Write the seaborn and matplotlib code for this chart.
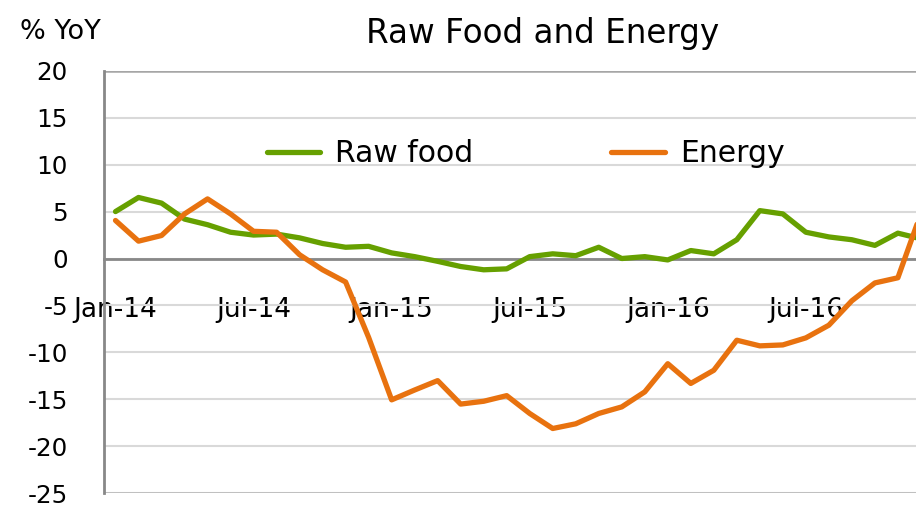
import numpy as np
import pandas as pd
import matplotlib
matplotlib.use("Agg")
import matplotlib.pyplot as plt
import seaborn as sns

sns.set_style("white")
plt.rcParams['font.family'] = ['DejaVu Sans']
plt.rcParams['text.color'] = 'black'
plt.rcParams['xtick.color'] = 'black'
plt.rcParams['ytick.color'] = 'black'

# monthly % YoY, Jan-14 .. Dec-16
months = pd.date_range("2014-01-01", periods=36, freq="MS")
raw_food = [5.0, 6.5, 5.9, 4.2, 3.6, 2.8, 2.5, 2.6, 2.2, 1.6, 1.2, 1.3,
            0.6, 0.2, -0.3, -0.85, -1.2, -1.1, 0.2, 0.5, 0.3, 1.2, 0.0, 0.2,
            -0.15, 0.85, 0.5, 2.0, 5.1, 4.75, 2.8, 2.3, 2.0, 1.4, 2.7, 2.1]
energy = [4.05, 1.85, 2.45, 4.75, 6.35, 4.75, 2.9, 2.8, 0.4, -1.2, -2.5, -8.4,
          -15.05, -14.0, -13.0, -15.5, -15.2, -14.6, -16.5, -18.1, -17.6, -16.5, -15.8, -14.2,
          -11.2, -13.3, -11.9, -8.7, -9.3, -9.2, -8.45, -7.1, -4.5, -2.6, -2.05, 4.8]
series_names = ["Raw food", "Energy"]
colors = {"Raw food": "#66a000", "Energy": "#e8720f"}
label_months = ["Jan-14", "Jul-14", "Jan-15", "Jul-15", "Jan-16", "Jul-16"]
yticks = list(range(-25, 21, 5))

df = pd.DataFrame({"idx": np.arange(len(months)), "Raw food": raw_food, "Energy": energy})
long = df.melt(id_vars="idx", value_vars=series_names, var_name="series", value_name="value")

fig = plt.figure(figsize=(9.16, 5.05), dpi=100)
ax = fig.add_axes([104 / 916, 11.7 / 505, 828.4 / 916, 422.6 / 505])

sns.lineplot(data=long, x="idx", y="value", hue="series", hue_order=series_names,
             palette=colors, linewidth=3.8, ax=ax, legend=False, zorder=3)
for ln in ax.get_lines():
    ln.set_solid_joinstyle("round")

ax.set_xlim(-0.5, 35.5)
ax.set_ylim(-25, 20)
ax.set_yticks(yticks)
ax.set_yticklabels([str(v) for v in yticks], fontsize=17.7)
ax.yaxis.grid(True, color="#d9d9d9", linewidth=1.5, zorder=0)
for yv, c in [(20, "#a6a6a6"), (-25, "#b8b8b8")]:
    ax.axhline(yv, color=c, linewidth=1.8, zorder=1)
ax.tick_params(axis="y", length=8, width=1.5, color="#888888", labelcolor="black", pad=18, direction="out")

# category axis crossing at zero
ax.spines["bottom"].set_position(("data", 0))
for s in ["top", "right"]:
    ax.spines[s].set_visible(False)
for s in ["left", "bottom"]:
    ax.spines[s].set_color("#888888")
    ax.spines[s].set_linewidth(2)
    ax.spines[s].set_zorder(2)
ax.set_xticks(np.arange(5.5, 36, 6))
ax.set_xticklabels([])
ax.set_xticks(np.arange(0, 36, 6), minor=True)
ax.set_xticklabels(label_months, minor=True, fontsize=19)
ax.tick_params(axis="x", which="major", length=9, width=1.5, color="#888888", direction="out")
ax.tick_params(axis="x", which="minor", length=0, pad=28, labelcolor="black")
ax.set_xlabel("")
ax.set_ylabel("")

handles = [plt.Line2D([], [], color=colors[n], linewidth=3.8, solid_capstyle="round") for n in series_names]
fig.legend(handles, series_names, loc="center", bbox_to_anchor=(525.5 / 916, 1 - 154 / 505),
           ncol=2, frameon=False, fontsize=21.5, handlelength=1.8, handletextpad=0.5,
           columnspacing=4.6)

fig.text(543 / 916, 1 - 33 / 505, "Raw Food and Energy", ha="center", va="center", fontsize=23.5)
fig.text(20 / 916, 1 - 32 / 505, "% YoY", ha="left", va="center", fontsize=19.5)

fig.savefig("out.png", dpi=100)
